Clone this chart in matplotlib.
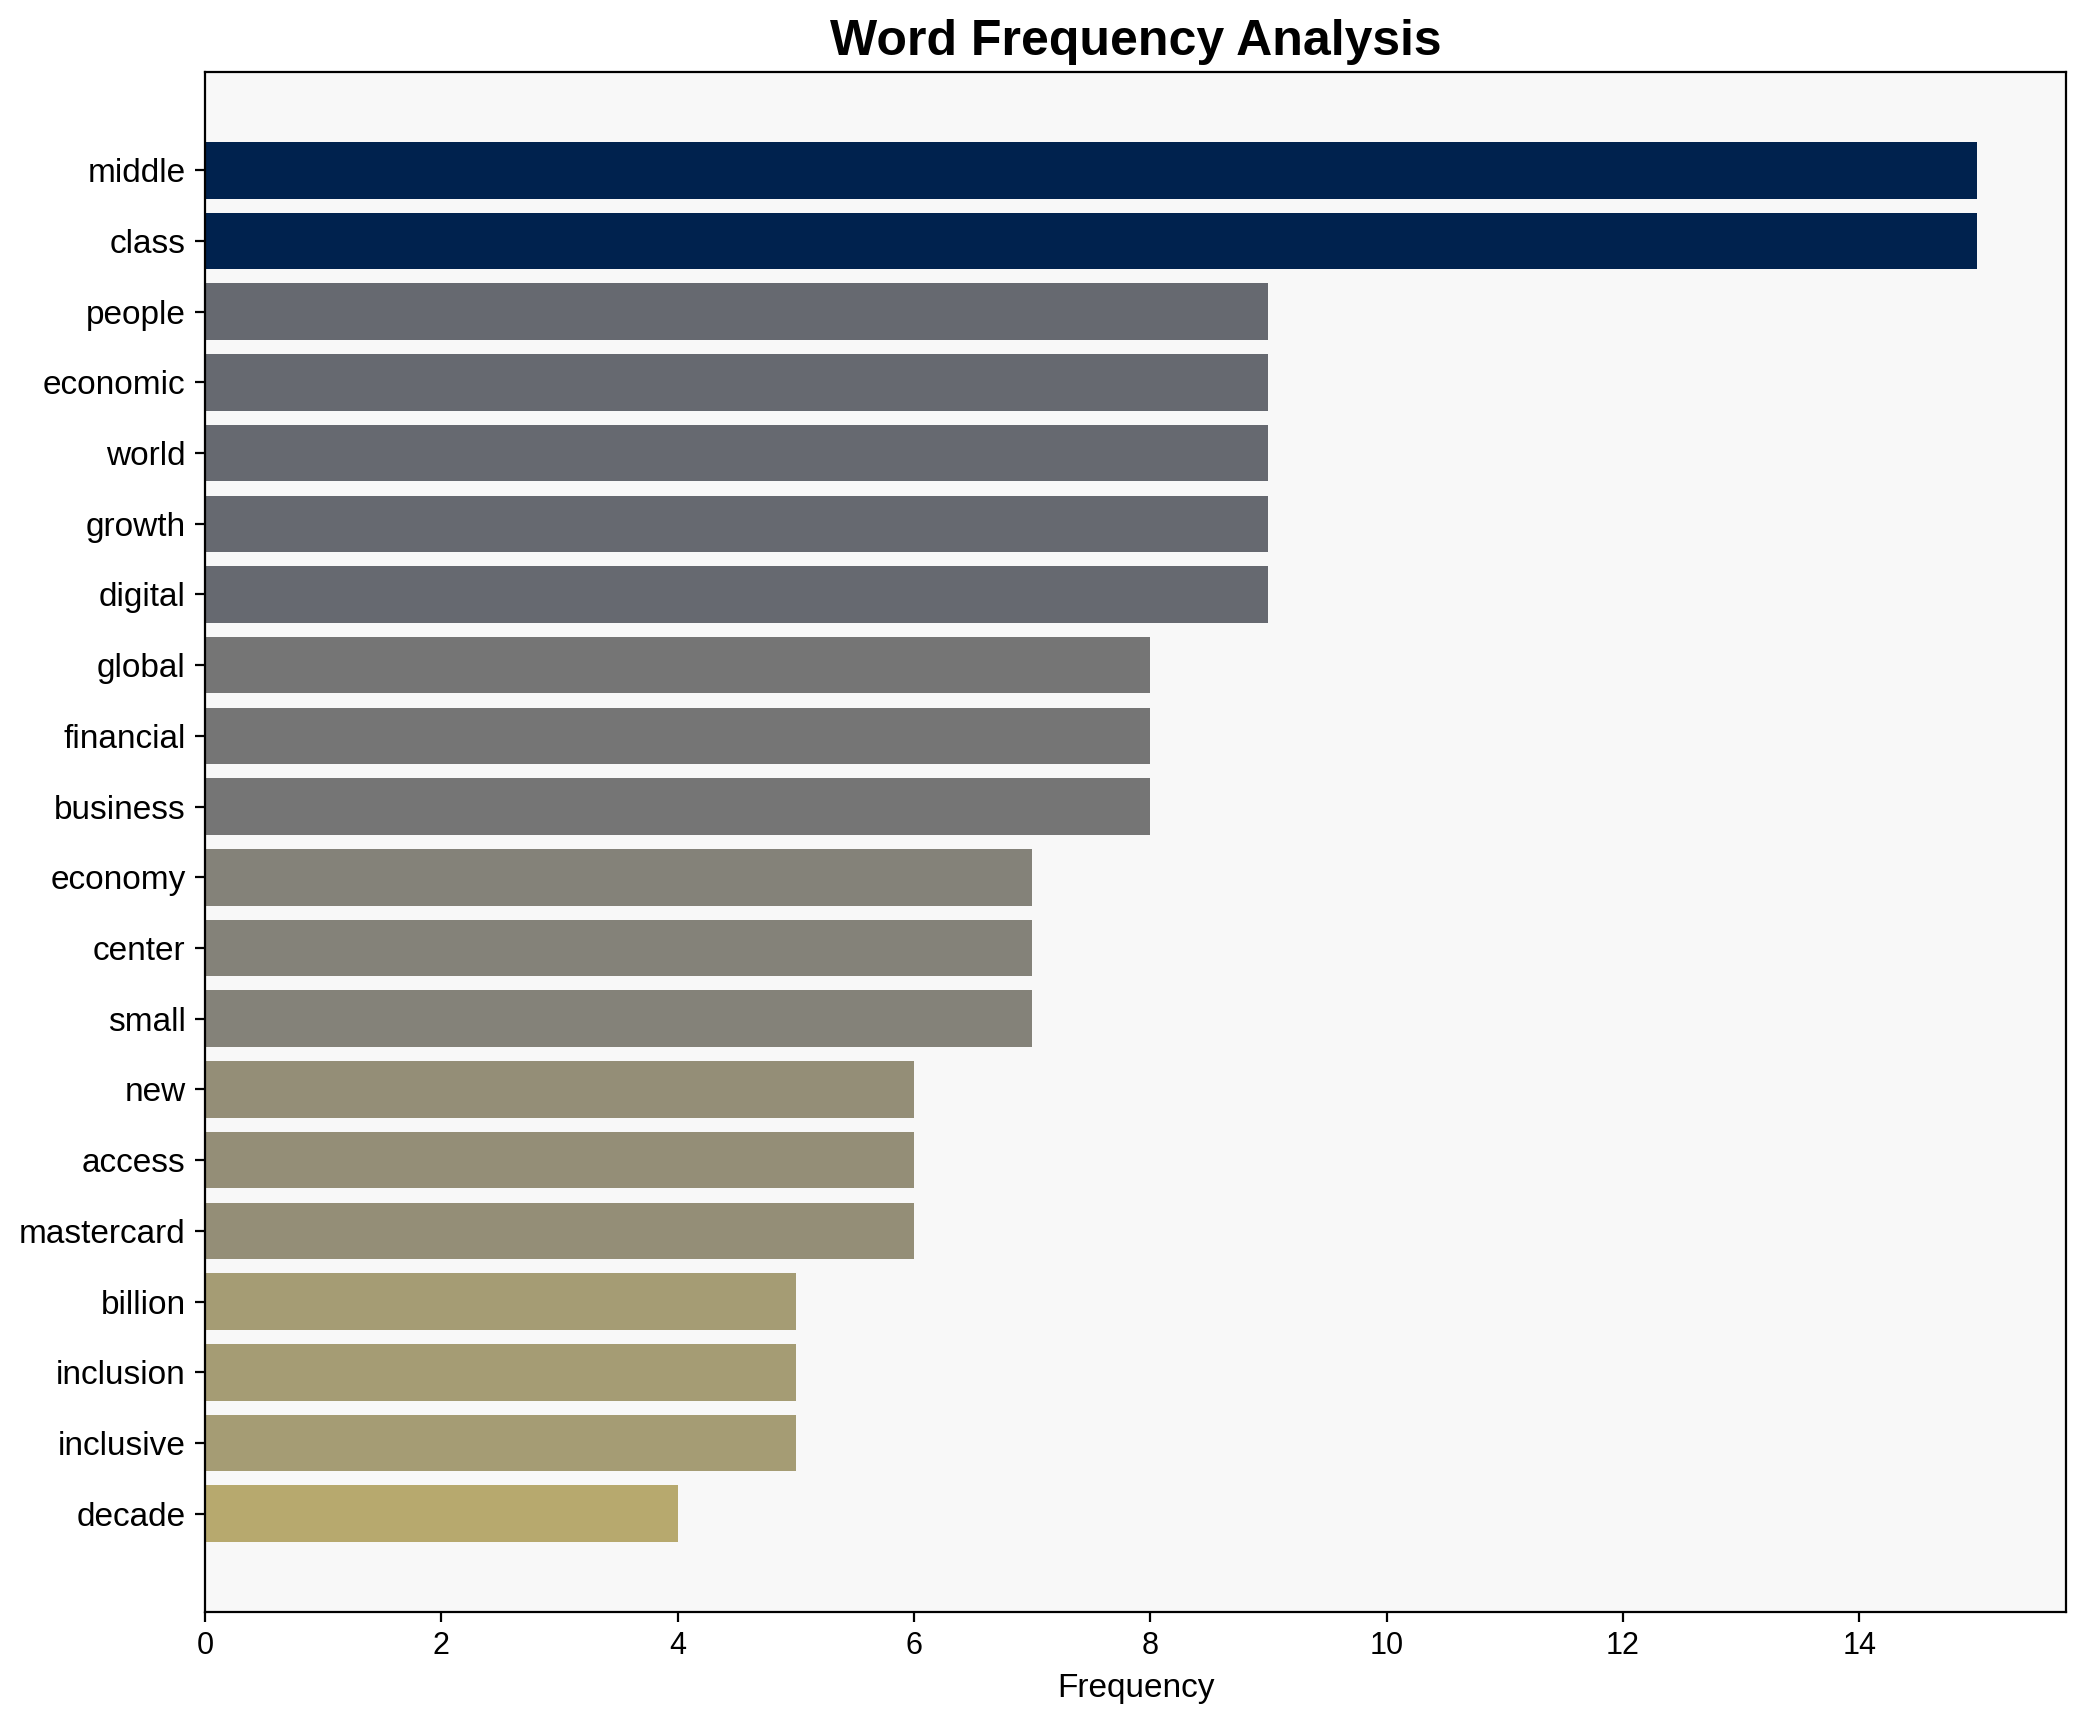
import matplotlib
matplotlib.use("Agg")
import matplotlib.pyplot as plt
import numpy as np

plt.rcParams['font.family'] = ['Liberation Sans', 'DejaVu Sans']

words = ["middle", "class", "people", "economic", "world", "growth", "digital",
         "global", "financial", "business", "economy", "center", "small", "new",
         "access", "mastercard", "billion", "inclusion", "inclusive", "decade"]
counts = [15, 15, 9, 9, 9, 9, 9, 8, 8, 8, 7, 7, 7, 6, 6, 6, 5, 5, 5, 4]

fig = plt.figure(figsize=(10.43, 8.61), dpi=200)
ax = fig.add_axes([0.0983, 0.0639, 0.8921, 0.8943])
ax.set_facecolor('#f8f8f8')

vals = np.array(counts, dtype=float)
colors = plt.cm.cividis(1 - vals / vals.max())
y = np.arange(len(words))
ax.barh(y, vals, height=0.8, color=colors)
ax.set_yticks(y)
ax.set_yticklabels(words, fontsize=12)
ax.invert_yaxis()
ax.tick_params(axis='x', labelsize=11)
ax.set_xlabel("Frequency", fontsize=12)
ax.set_title("Word Frequency Analysis", fontsize=18, fontweight='bold')

fig.savefig("out.png", dpi=200)
